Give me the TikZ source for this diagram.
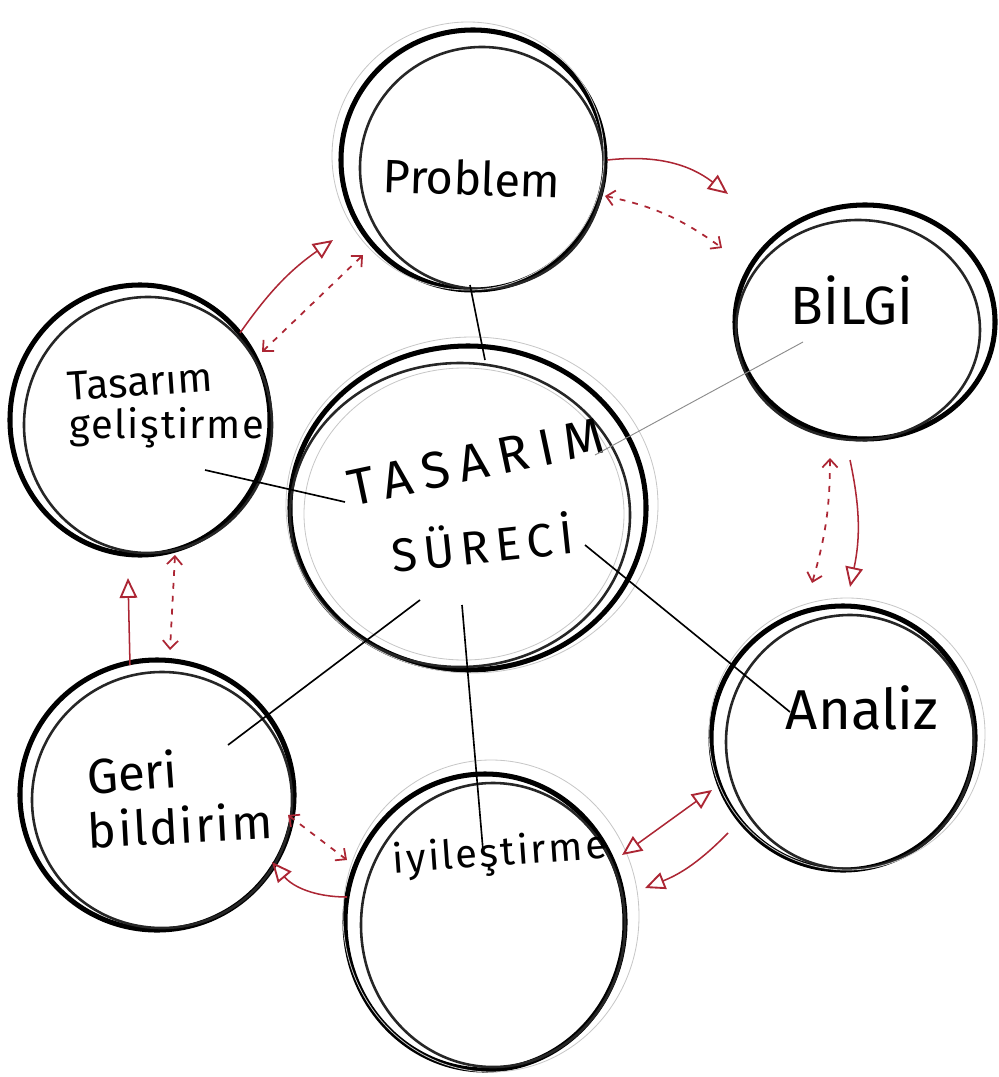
\documentclass[tikz,border=0pt]{standalone}
\usepackage{fontspec}
\setmainfont{Fira Sans}
\usetikzlibrary{arrows.meta,shapes.geometric,calc}
\definecolor{sred}{RGB}{172,38,52}
\begin{document}
\begin{tikzpicture}[x=0.03cm,y=-0.03cm,
  ring/.style={ellipse, draw=black, line width=4.3pt, inner sep=0pt},
  ring2/.style={draw=black!85, line width=2.2pt},
  pencil/.style={draw=black!22, line width=0.7pt},
  lbl/.style={inner sep=0pt},
  link/.style={draw=black, line width=1.4pt},
  thinlink/.style={draw=black!45, line width=0.8pt},
  tri/.tip={Triangle[open,length=17pt,width=15pt,line width=1.6pt]},
  barb/.tip={Straight Barb[length=7pt,width=13pt,line width=1.5pt]},
  solidarr/.style={draw=sred, line width=1.3pt, -tri},
  twotri/.style={draw=sred, line width=1.3pt, tri-tri},
  dasharr/.style={draw=sred, line width=1.5pt, dash pattern=on 5pt off 6pt, barb-barb},
]
\useasboundingbox (0,0) rectangle (998,1077);

% circles
\node[ring, minimum width=7.92cm, minimum height=7.8cm] (prob) at (473,160) {};
\node[ring, minimum width=7.8cm, minimum height=7.02cm] (bilgi) at (865,322) {};
\node[ring, minimum width=7.8cm, minimum height=8.1cm] (tg) at (140,420) {};
\node[ring, minimum width=10.68cm, minimum height=9.72cm] (ts) at (468,508) {};
\node[ring, minimum width=7.92cm, minimum height=7.92cm] (analiz) at (843,738) {};
\node[ring, minimum width=8.22cm, minimum height=8.1cm] (geri) at (157,795) {};
\node[ring, minimum width=8.4cm, minimum height=8.88cm] (iyi) at (485,922) {};

% second strokes (hand-drawn double lines)
\draw[ring2] ([shift={(9,8)}]prob.center) ellipse [x radius=122, y radius=121];
\draw[ring2] ([shift={(-7,8)}]bilgi.center) ellipse [x radius=122, y radius=110];
\draw[ring2] ([shift={(8,5)}]tg.center) ellipse [x radius=124, y radius=128];
\draw[ring2] ([shift={(-8,7)}]ts.center) ellipse [x radius=170, y radius=152];
\draw[ring2] ([shift={(7,4)}]analiz.center) ellipse [x radius=124, y radius=127];
\draw[ring2] ([shift={(5,5)}]geri.center) ellipse [x radius=130, y radius=128];
\draw[ring2] ([shift={(8,3)}]iyi.center) ellipse [x radius=132, y radius=142];

% faint pencil strokes
\draw[pencil] ([shift={(4,-3)}]ts.center) ellipse [x radius=186, y radius=168];
\draw[pencil] ([shift={(-4,6)}]ts.center) ellipse [x radius=160, y radius=146];
\draw[pencil] ([shift={(6,-6)}]iyi.center) ellipse [x radius=148, y radius=156];
\draw[pencil] ([shift={(-5,-4)}]prob.center) ellipse [x radius=136, y radius=134];
\draw[pencil] ([shift={(4,-4)}]analiz.center) ellipse [x radius=138, y radius=136];

% labels
\node[lbl, rotate=-2, font=\fontsize{40}{40}\selectfont] (probL) at (472,178) {Problem};
\node[lbl, font=\fontsize{46}{46}\selectfont] (bilgiL) at (852,300) {BİLGİ};
\node[lbl, rotate=4, font=\fontsize{35}{35}\selectfont] (tgL1) at (140,382) {Tasarım};
\node[lbl, font=\fontsize{34}{34}\selectfont\addfontfeatures{LetterSpace=4}] (tgL2) at (167,428) {geliştirme};
\node[lbl, rotate=12, font=\fontsize{44}{44}\selectfont\addfontfeatures{LetterSpace=20}] (tsL1) at (476,462) {TASARIM};
\node[lbl, rotate=6, font=\fontsize{40}{40}\selectfont\addfontfeatures{LetterSpace=14}] (tsL2) at (482,542) {SÜRECİ};
\node[lbl, font=\fontsize{48}{48}\selectfont] (analizL) at (862,708) {Analiz};
\node[lbl, rotate=4, font=\fontsize{42}{42}\selectfont] (geriL1) at (132,772) {Geri};
\node[lbl, rotate=3, font=\fontsize{41}{41}\selectfont\addfontfeatures{LetterSpace=4}] (geriL2) at (180,825) {bildirim};
\node[lbl, rotate=4, font=\fontsize{34}{34}\selectfont\addfontfeatures{LetterSpace=6}] (iyiL) at (500,855) {iyileştirme};

% black links to the centre
\draw[link] ([shift={(-3,125)}]prob.center) -- ([shift={(17,-148)}]ts.center);
\draw[thinlink] ([shift={(-62,20)}]bilgi.center) -- ([shift={(127,-53)}]ts.center);
\draw[link] ([shift={(117,37)}]ts.center) -- ([shift={(-53,-26)}]analiz.center);
\draw[link] ([shift={(-6,97)}]ts.center) -- ([shift={(-2,-72)}]iyi.center);
\draw[link] ([shift={(-48,92)}]ts.center) -- ([shift={(71,-50)}]geri.center);
\draw[link] ([shift={(65,50)}]tg.center) -- ([shift={(-123,-6)}]ts.center);

% red arrows between neighbours
\draw[solidarr] (prob.east) to[bend left=22] ([shift={(-137,-128)}]bilgi.center);
\draw[dasharr] ([shift={(132,36)}]prob.center) to[bend left=12] ([shift={(-143,-74)}]bilgi.center);

\draw[dasharr] ([shift={(-35,136)}]bilgi.center) to[bend left=8] ([shift={(-31,-155)}]analiz.center);
\draw[solidarr] ([shift={(-15,138)}]bilgi.center) to[bend left=12] ([shift={(7,-151)}]analiz.center);

\draw[twotri] ([shift={(137,-67)}]iyi.center) -- ([shift={(-131,52)}]analiz.center);
\draw[solidarr] ([shift={(-115,95)}]analiz.center) to[bend left=12] ([shift={(160,-34)}]iyi.center);

\draw[solidarr] ([shift={(-138,-25)}]iyi.center) to[bend left=25] ([shift={(115,67)}]geri.center);
\draw[dasharr] ([shift={(131,20)}]geri.center) -- ([shift={(-138,-62)}]iyi.center);

\draw[solidarr] ([shift={(-27,-130)}]geri.center) -- ([shift={(-12,158)}]tg.center);
\draw[dasharr] ([shift={(35,135)}]tg.center) -- ([shift={(13,-145)}]geri.center);

\draw[solidarr] ([shift={(100,-87)}]tg.center) to[bend left=10] ([shift={(-140,80)}]prob.center);
\draw[dasharr] ([shift={(122,-68)}]tg.center) -- ([shift={(-110,95)}]prob.center);
\end{tikzpicture}
\end{document}
